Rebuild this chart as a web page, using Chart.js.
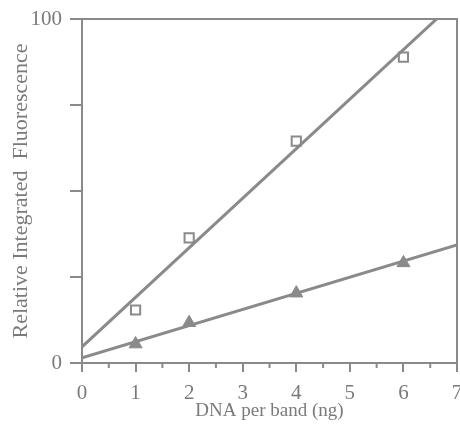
<!DOCTYPE html>
<html>
<head>
<meta charset="utf-8">
<script src="https://cdn.jsdelivr.net/npm/chart.js@4.4.1/dist/chart.umd.min.js"></script>
<style>
html,body{margin:0;padding:0;background:#fff;}
#wrap{width:460px;height:431px;position:relative;}
</style>
</head>
<body>
<div id="wrap"><canvas id="c" width="460" height="431"></canvas></div>
<script>
// Data
const dnaNg = [1, 2, 4, 6];
const squareSeries = [15.4, 36.4, 64.5, 88.9];
const triangleSeries = [5.5, 11.7, 20.3, 29.1];
const fitX = [0, 7];
const squareFit = [4.7, 105.5];
const triangleFit = [1.5, 34.3];
const xTicks = [0, 1, 2, 3, 4, 5, 6, 7];
const yTickLabels = {0: '0', 100: '100'};

const GRAY = '#8a8a8a';
const TEXT = '#7a7a7a';
const FONT = "'Liberation Serif', 'Times New Roman', serif";

const toXY = (xs, ys) => xs.map((x, i) => ({x: x, y: ys[i]}));

const framePlugin = {
  id: 'frame',
  afterDatasetsDraw(chart) {
    const {ctx, chartArea: a, scales: {x}} = chart;
    ctx.save();
    ctx.strokeStyle = GRAY;
    ctx.lineWidth = 2;
    ctx.beginPath();
    ctx.moveTo(a.left, a.top);
    ctx.lineTo(a.right, a.top);
    ctx.lineTo(a.right, a.bottom);
    ctx.stroke();
    // minor ticks at half units
    ctx.beginPath();
    for (let v = 0.5; v < 7; v += 1) {
      const px = x.getPixelForValue(v);
      ctx.moveTo(px, a.bottom);
      ctx.lineTo(px, a.bottom + 5);
    }
    ctx.stroke();
    ctx.restore();
  }
};

new Chart(document.getElementById('c'), {
  type: 'scatter',
  data: {
    datasets: [
      {
        type: 'line',
        data: toXY(fitX, squareFit),
        borderColor: GRAY, borderWidth: 3, pointRadius: 0, fill: false
      },
      {
        type: 'line',
        data: toXY(fitX, triangleFit),
        borderColor: GRAY, borderWidth: 3, pointRadius: 0, fill: false
      },
      {
        data: toXY(dnaNg, squareSeries),
        pointStyle: 'rect', pointRadius: 6.5, borderWidth: 2,
        borderColor: GRAY, backgroundColor: '#ffffff'
      },
      {
        data: toXY(dnaNg, triangleSeries),
        pointStyle: 'triangle', pointRadius: 7.5, borderWidth: 1,
        borderColor: GRAY, backgroundColor: GRAY
      }
    ]
  },
  options: {
    responsive: false,
    animation: false,
    layout: {autoPadding: false, padding: {top: 19, right: 3, left: 0, bottom: 0}},
    plugins: {legend: {display: false}, tooltip: {enabled: false}},
    scales: {
      x: {
        type: 'linear', min: 0, max: 7,
        afterBuildTicks: (s) => { s.ticks = xTicks.map(v => ({value: v})); },
        afterFit: (s) => { s.height = 68; s.paddingLeft = 0; s.paddingRight = 0; },
        grid: {drawOnChartArea: false, color: GRAY, tickLength: 9, lineWidth: 2},
        border: {color: GRAY, width: 2},
        ticks: {color: TEXT, font: {family: FONT, size: 21}, padding: 9, maxRotation: 0, autoSkip: false},
        title: {display: true, text: 'DNA per band (ng)', color: TEXT, font: {family: FONT, size: 19}, padding: {top: 0, bottom: 9}}
      },
      y: {
        type: 'linear', min: 0, max: 100,
        ticks: {stepSize: 25, color: TEXT, font: {family: FONT, size: 21}, padding: 8,
          callback: (v) => yTickLabels[v] !== undefined ? yTickLabels[v] : ''},
        afterFit: (s) => { s.width = 82; s.paddingTop = 0; s.paddingBottom = 0; },
        grid: {drawOnChartArea: false, color: GRAY, tickLength: 12, lineWidth: 2},
        border: {color: GRAY, width: 2},
        title: {display: true, text: 'Relative Integrated  Fluorescence', color: TEXT, font: {family: FONT, size: 22}, padding: {top: 8, bottom: 0}}
      }
    }
  },
  plugins: [framePlugin]
});
</script>
</body>
</html>
